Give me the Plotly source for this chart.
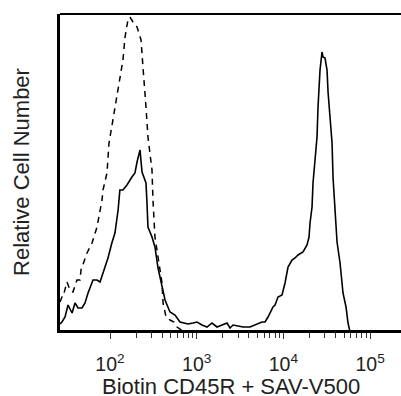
import plotly.graph_objects as go

# Dashed histogram (control)
dashed_x = [26.5, 27.9, 28.7, 31.9, 34.6, 37.4, 41.6, 45.1, 46.3, 48.8, 54.3, 62.0, 70.8, 80.9, 83.0,
            92.3, 97.4, 108, 120, 130, 141, 149, 161, 170, 184, 205, 228, 240, 247, 260, 274, 289,
            305, 313, 330, 358, 398, 409, 443, 492, 547, 593, 641, 714]
dashed_y = [30, 35, 35, 50, 42, 40, 52, 52, 62, 67, 79, 89, 105, 132, 142,
            159, 189, 212, 235, 255, 272, 295, 312, 315, 310, 305, 292, 265, 252, 225, 195, 179,
            162, 132, 95, 75, 49, 29, 15, 12, 10, 5, 3, 0]

# Solid histogram (stained)
solid_x = [26.5, 27.9, 30.3, 32.8, 36.5, 39.5, 42.8, 47.5, 51.5, 55.8, 63.7, 70.8, 76.7, 83.0, 94.8,
           105, 114, 124, 130, 141, 157, 179, 194, 205, 222, 234, 247, 260, 267, 274, 305, 330, 358,
           398, 431, 492, 562, 641, 695, 794, 907, 1007, 1150, 1314, 1500, 1714, 1958, 2235, 2421,
           2623, 2994, 3420, 4120, 4958, 5662, 6134, 6643, 7586, 8000, 8664, 9636, 10430, 11300,
           12560, 13610, 14740, 16830, 18720, 19740, 20270, 21380, 21940, 23130, 24410, 25060,
           26430, 27870, 28620, 30190, 31840, 32710, 34490, 36380, 37360, 39390, 41530, 44980,
           48670, 52720, 55590, 58630]
solid_y = [8, 10, 15, 27, 19, 29, 24, 24, 29, 39, 52, 52, 50, 59, 74,
           89, 99, 122, 142, 142, 147, 155, 159, 170, 182, 160, 155, 149, 129, 105, 95, 85, 64,
           45, 32, 20, 17, 10, 9, 8, 9, 10, 7, 5, 9, 5, 7, 9, 4,
           7, 6, 5, 5, 8, 10, 10, 15, 25, 27, 35, 37, 49, 65,
           72, 74, 77, 80, 87, 95, 109, 125, 149, 172, 195, 225,
           262, 280, 275, 274, 262, 240, 215, 189, 154, 119, 90, 69,
           39, 25, 9, 0]

major_ticks = [100, 1000, 10000, 100000]
major_labels = ["10<sup>2</sup>", "10<sup>3</sup>", "10<sup>4</sup>", "10<sup>5</sup>"]
minor_ticks = [m * 10 ** e for e in (2, 3, 4) for m in range(2, 10)]

x_title = "Biotin CD45R + SAV-V500"
y_title = "Relative Cell Number"

fig = go.Figure()
fig.add_trace(go.Scatter(x=dashed_x, y=dashed_y, mode="lines",
                         line=dict(color="black", width=1.5, dash="6px,5px"),
                         showlegend=False, hoverinfo="skip"))
fig.add_trace(go.Scatter(x=solid_x, y=solid_y, mode="lines",
                         line=dict(color="black", width=1.6),
                         showlegend=False, hoverinfo="skip"))

font_family = "Liberation Sans, Arial, sans-serif"

fig.update_layout(
    width=401, height=396,
    margin=dict(l=60, r=0, t=14, b=66, pad=0),
    paper_bgcolor="white", plot_bgcolor="white",
    font=dict(family=font_family, color="#222222"),
    xaxis=dict(
        type="log", range=[1.4233, 5.356], automargin=False,
        showgrid=False, zeroline=False,
        showline=True, linecolor="black", linewidth=3,
        tickmode="array", tickvals=major_ticks, ticktext=major_labels,
        ticks="outside", ticklen=6, tickwidth=1, tickcolor="#333333",
        ticklabelstandoff=9,
        tickfont=dict(size=19.5, family=font_family, color="#222222"),
        minor=dict(tickmode="array", tickvals=minor_ticks, ticks="outside",
                   ticklen=5, tickwidth=1, tickcolor="#333333", showgrid=False),
    ),
    yaxis=dict(
        range=[2, 318], automargin=False,
        showgrid=False, zeroline=False,
        showline=True, linecolor="black", linewidth=3,
        showticklabels=False, ticks="",
        title=dict(text=y_title, font=dict(size=22, family=font_family, color="#222222"),
                   standoff=22),
    ),
    shapes=[dict(type="line", xref="paper", yref="paper", x0=0, x1=1, y0=1, y1=1,
                 line=dict(color="black", width=2))],
    annotations=[dict(text=x_title, xref="paper", yref="paper", x=0.5, y=0,
                      xanchor="center", yanchor="top", yshift=-42, showarrow=False,
                      font=dict(size=22, family=font_family, color="#222222"))],
)

fig.write_html("out.html", config={"displayModeBar": False},
               post_script="document.body.style.margin='0';document.body.style.padding='0';")
